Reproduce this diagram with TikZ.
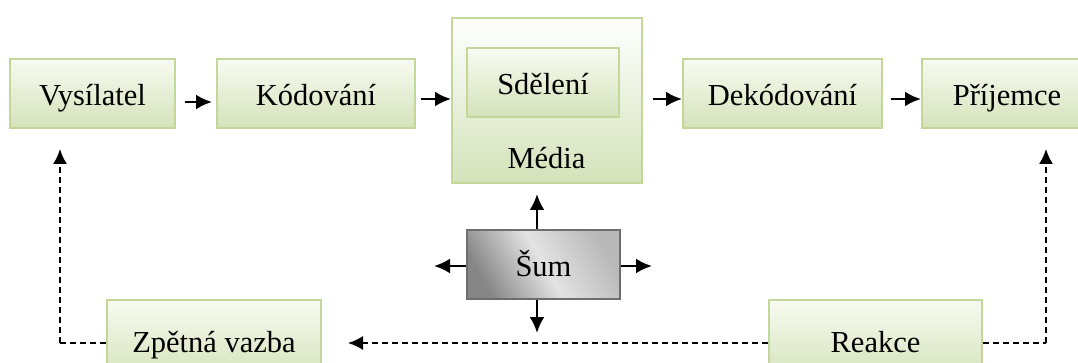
\documentclass[tikz,border=0pt]{standalone}
\usepackage{fontspec}
\setmainfont{Liberation Serif}
\usetikzlibrary{arrows.meta}
\definecolor{gborder}{RGB}{196,215,155}
\definecolor{gtop}{RGB}{248,251,242}
\definecolor{gbot}{RGB}{212,226,185}
\definecolor{sborder}{RGB}{110,110,110}
\begin{document}
\begin{tikzpicture}[x=1pt,y=-1pt,
  font=\fontsize{30.5}{36}\selectfont,
  gbox/.style={draw=gborder, line width=2pt, rectangle, top color=gtop, bottom color=gbot, inner sep=0pt, text height=24pt, text depth=0pt},
  sumbox/.style={draw=sborder, line width=2pt, rectangle, inner sep=0pt, text height=24pt, text depth=0pt,
     shading=axis, left color=gray!95, right color=gray!55, middle color=gray!22, shading angle=120},
  solidarr/.style={line width=2.6pt, -{Latex[length=16pt,width=15pt]}},
  dasharr/.style={line width=1.7pt, dash pattern=on 6pt off 4pt, -{Latex[length=15pt,width=14pt]}},
  dashln/.style={line width=1.7pt, dash pattern=on 6pt off 4pt}
]
\useasboundingbox (0,0) rectangle (1078,363);
\clip (0,0) rectangle (1078,363);
\fill[white] (0,0) rectangle (1078,363);

% top row
\node[gbox, minimum width=165pt, minimum height=69pt] (vys) at (92.5,93.5) {Vysílatel};
\node[gbox, minimum width=198pt, minimum height=69pt] (kod) at (316,93.5) {Kódování};
\node[gbox, minimum width=190pt, minimum height=165pt, top color=white] (media) at (547,100.5) {};
\node[gbox, minimum width=152pt, minimum height=69pt] (sdel) at (543,82.5) {Sdělení};
\node[text height=24pt, text depth=0pt, inner sep=0pt] (medialbl) at (546.5,157) {Média};
\node[gbox, minimum width=199pt, minimum height=69pt] (dek) at (782.5,93.5) {Dekódování};
\node[gbox, minimum width=170pt, minimum height=69pt] (pri) at (1007,93.5) {Příjemce};

% noise
\node[sumbox, minimum width=153pt, minimum height=69pt] (sum) at (543.5,264.5) {Šum};

% bottom row
\node[gbox, minimum width=214pt, minimum height=80pt] (zpet) at (214,340) {Zpětná vazba};
\node[gbox, minimum width=213pt, minimum height=80pt] (reak) at (875.5,340) {Reakce};

% main arrows
\coordinate (y1) at (0,102);
\coordinate (y2) at (0,99);
\draw[solidarr, shorten <=9pt, shorten >=4pt] (vys.east |- y1) -- (kod.west |- y1);
\draw[solidarr, shorten <=5pt] (kod.east |- y2) -- (media.west |- y2);
\draw[solidarr, shorten <=10pt] (media.east |- y2) -- (dek.west |- y2);
\draw[solidarr, shorten <=8pt] (dek.east |- y2) -- (pri.west |- y2);

% noise arrows
\coordinate (sumdown) at (537,333);
\coordinate (sumleft) at (434,266);
\coordinate (sumright) at (652,266);
\draw[solidarr, shorten >=10pt] (sum.north -| 537,0) -- (media.south -| 537,0);
\draw[solidarr] (sum.south -| sumdown) -- (sumdown);
\draw[solidarr] (sum.west |- sumleft) -- (sumleft);
\draw[solidarr] (sum.east |- sumright) -- (sumright);

% feedback loop
\coordinate (rcorner) at (1046,343);
\coordinate (lcorner) at (60,343);
\draw[dashln] (reak.east |- rcorner) -- (rcorner);
\draw[dasharr, shorten >=20pt] (rcorner) -- (rcorner |- pri.south);
\draw[dasharr, shorten >=26pt] (reak.west |- rcorner) -- (zpet.east |- rcorner);
\draw[dashln] (zpet.west |- lcorner) -- (lcorner);
\draw[dasharr, shorten >=20pt] (lcorner) -- (lcorner |- vys.south);
\end{tikzpicture}
\end{document}
